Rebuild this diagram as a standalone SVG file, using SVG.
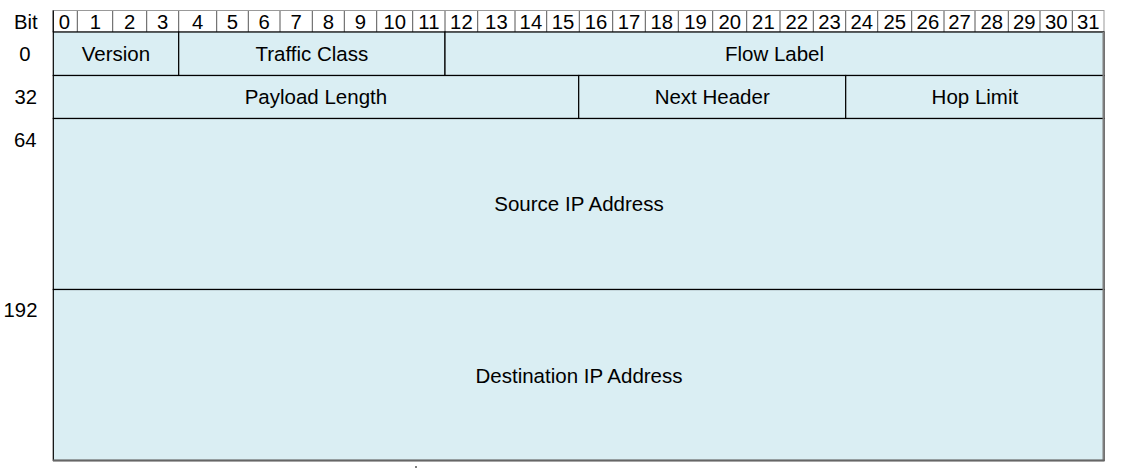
<svg xmlns="http://www.w3.org/2000/svg" width="1121" height="468" viewBox="0 0 1121 468">
<style>
text{font-family:"Liberation Sans",Arial,sans-serif;fill:#000;text-anchor:middle}
.bit{font-size:20.3px}
.lbl{font-size:20.5px}
.field{fill:#DAEEF3;stroke:#000;stroke-width:1.2}
</style>
<rect width="1121" height="468" fill="#fff"/>
<g id="header-labels">
<text class="bit" x="25.8" y="29.3">Bit</text>
<text class="bit" x="25" y="61">0</text>
<text class="bit" x="25.8" y="104">32</text>
<text class="bit" x="25.3" y="146.7">64</text>
<text class="bit" x="20.5" y="317.3">192</text>
</g>
<g id="bit-row">
<rect x="53" y="10.5" width="1051" height="21.5" fill="#fff" stroke="#999" stroke-width="1"/>
<g stroke="#555" stroke-width="1">
<line x1="77.3" y1="11" x2="77.3" y2="32"/><line x1="112.7" y1="11" x2="112.7" y2="32"/>
<line x1="146.7" y1="11" x2="146.7" y2="32"/><line x1="178.7" y1="11" x2="178.7" y2="32"/>
<line x1="216.7" y1="11" x2="216.7" y2="32"/><line x1="248.3" y1="11" x2="248.3" y2="32"/>
<line x1="280" y1="11" x2="280" y2="32"/><line x1="312.3" y1="11" x2="312.3" y2="32"/>
<line x1="344.3" y1="11" x2="344.3" y2="32"/><line x1="376.7" y1="11" x2="376.7" y2="32"/>
<line x1="412.7" y1="11" x2="412.7" y2="32"/><line x1="445" y1="11" x2="445" y2="32"/>
<line x1="477.7" y1="11" x2="477.7" y2="32"/><line x1="515" y1="11" x2="515" y2="32"/>
<line x1="546.7" y1="11" x2="546.7" y2="32"/><line x1="579.3" y1="11" x2="579.3" y2="32"/>
<line x1="612.7" y1="11" x2="612.7" y2="32"/><line x1="645.3" y1="11" x2="645.3" y2="32"/>
<line x1="678.3" y1="11" x2="678.3" y2="32"/><line x1="712.7" y1="11" x2="712.7" y2="32"/>
<line x1="746.7" y1="11" x2="746.7" y2="32"/><line x1="780" y1="11" x2="780" y2="32"/>
<line x1="813.3" y1="11" x2="813.3" y2="32"/><line x1="845.7" y1="11" x2="845.7" y2="32"/>
<line x1="877.7" y1="11" x2="877.7" y2="32"/><line x1="911.7" y1="11" x2="911.7" y2="32"/>
<line x1="944" y1="11" x2="944" y2="32"/><line x1="975" y1="11" x2="975" y2="32"/>
<line x1="1008.3" y1="11" x2="1008.3" y2="32"/><line x1="1040" y1="11" x2="1040" y2="32"/>
<line x1="1072.3" y1="11" x2="1072.3" y2="32"/>
</g>
<line x1="53.3" y1="10.5" x2="53.3" y2="32" stroke="#000" stroke-width="1.2"/>
<g>
<text class="bit" x="64.5" y="29.3">0</text><text class="bit" x="95.5" y="29.3">1</text>
<text class="bit" x="129.7" y="29.3">2</text><text class="bit" x="162.7" y="29.3">3</text>
<text class="bit" x="197.7" y="29.3">4</text><text class="bit" x="232.5" y="29.3">5</text>
<text class="bit" x="264.2" y="29.3">6</text><text class="bit" x="296.2" y="29.3">7</text>
<text class="bit" x="328.3" y="29.3">8</text><text class="bit" x="360.5" y="29.3">9</text>
<text class="bit" x="394.7" y="29.3">10</text><text class="bit" x="428.9" y="29.3">11</text>
<text class="bit" x="461.4" y="29.3">12</text><text class="bit" x="496.4" y="29.3">13</text>
<text class="bit" x="530.9" y="29.3">14</text><text class="bit" x="563" y="29.3">15</text>
<text class="bit" x="596" y="29.3">16</text><text class="bit" x="629" y="29.3">17</text>
<text class="bit" x="661.8" y="29.3">18</text><text class="bit" x="695.5" y="29.3">19</text>
<text class="bit" x="729.7" y="29.3">20</text><text class="bit" x="763.4" y="29.3">21</text>
<text class="bit" x="796.7" y="29.3">22</text><text class="bit" x="829.5" y="29.3">23</text>
<text class="bit" x="861.7" y="29.3">24</text><text class="bit" x="894.7" y="29.3">25</text>
<text class="bit" x="927.9" y="29.3">26</text><text class="bit" x="959.5" y="29.3">27</text>
<text class="bit" x="991.7" y="29.3">28</text><text class="bit" x="1024.2" y="29.3">29</text>
<text class="bit" x="1056.2" y="29.3">30</text><text class="bit" x="1088.2" y="29.3">31</text>
</g>
</g>
<g id="version"><rect class="field" x="53.3" y="32" width="125.4" height="43.5"/><text class="lbl" x="115.9" y="61">Version</text></g>
<g id="traffic-class"><rect class="field" x="178.7" y="32" width="266.3" height="43.5"/><text class="lbl" x="311.9" y="61">Traffic Class</text></g>
<g id="flow-label"><rect class="field" x="445" y="32" width="659" height="43.5"/><text class="lbl" x="774.5" y="61">Flow Label</text></g>
<g id="payload-length"><rect class="field" x="53.3" y="75.5" width="525.4" height="43"/><text class="lbl" x="315.9" y="104">Payload Length</text></g>
<g id="next-header"><rect class="field" x="578.7" y="75.5" width="267" height="43"/><text class="lbl" x="712.2" y="104">Next Header</text></g>
<g id="hop-limit"><rect class="field" x="845.7" y="75.5" width="258.3" height="43"/><text class="lbl" x="974.9" y="104">Hop Limit</text></g>
<g id="source-ip"><rect class="field" x="53.3" y="118.5" width="1050.7" height="171"/><text class="lbl" x="579" y="211">Source IP Address</text></g>
<g id="destination-ip"><rect class="field" x="53.3" y="289.5" width="1050.7" height="171"/><text class="lbl" x="579" y="382.5">Destination IP Address</text></g>
<g id="outer-border" fill="none">
<line x1="1103.5" y1="32" x2="1103.5" y2="461" stroke="#7f7f7f" stroke-width="2"/>
<line x1="53" y1="460.5" x2="1104.5" y2="460.5" stroke="#666" stroke-width="2"/>
</g>
<g id="connectors"/>
<rect x="415.5" y="466" width="1" height="2" fill="#000"/>
</svg>
